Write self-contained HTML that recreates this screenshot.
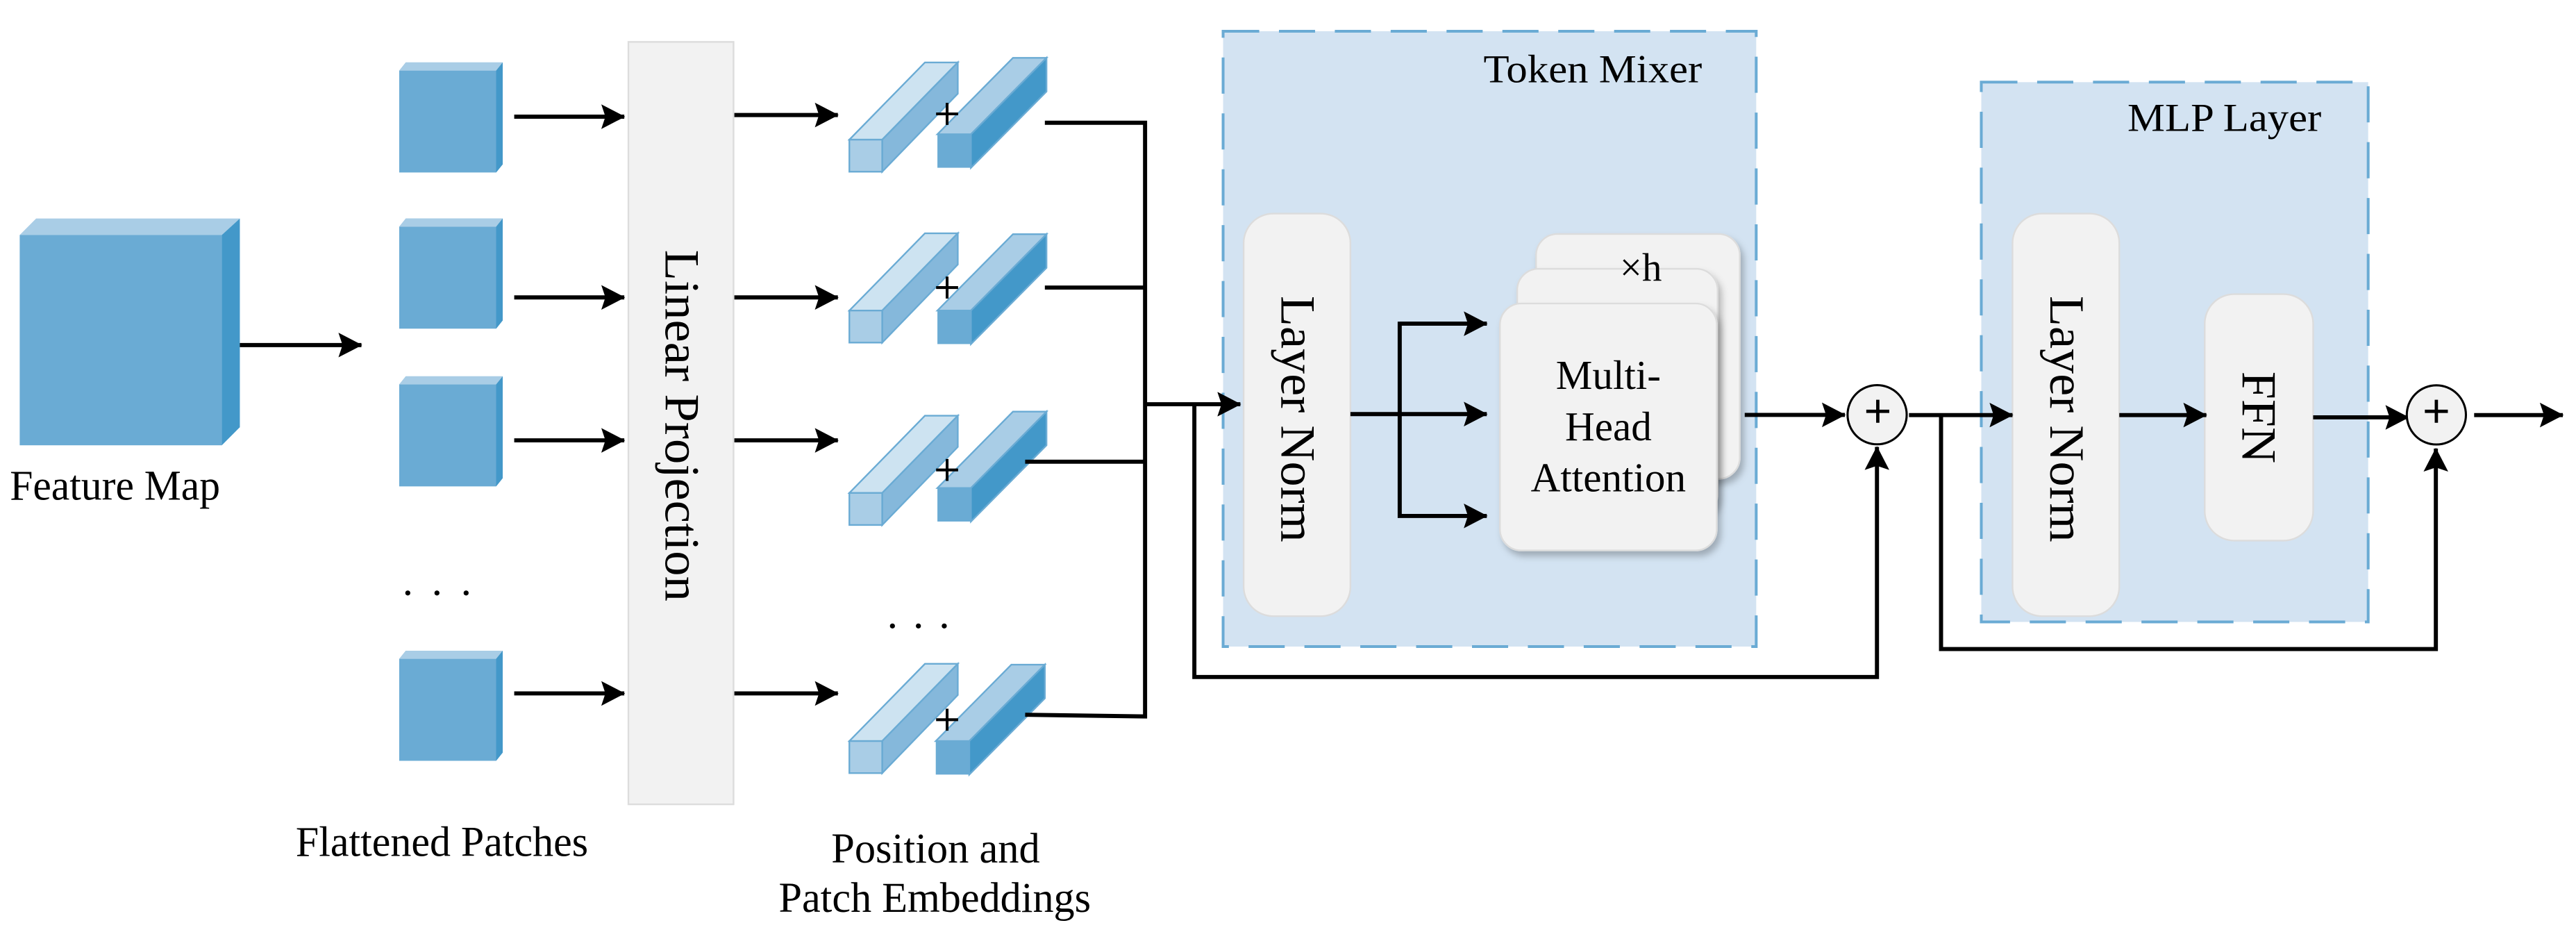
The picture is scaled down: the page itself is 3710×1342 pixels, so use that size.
<!DOCTYPE html>
<html><head><meta charset="utf-8"><style>
html,body{margin:0;padding:0;background:#fff;}
svg{display:block;}
svg text{font-family:"Liberation Serif","Times New Roman","DejaVu Serif",serif;fill:#000;}
</style></head><body>
<svg width="3710" height="1342" viewBox="0 0 1568 567.2" preserveAspectRatio="none" xmlns="http://www.w3.org/2000/svg" font-family="'Liberation Serif', 'Times New Roman', serif">
<defs>
<marker id="ah" markerUnits="userSpaceOnUse" markerWidth="16" markerHeight="16" refX="14" refY="8" orient="auto">
<path d="M0,0.5 L14.5,8 L0,15.5 L2.5,8 z" fill="#000"/>
</marker>
<filter id="sh" x="-10%" y="-10%" width="130%" height="130%"><feDropShadow dx="2" dy="3" stdDeviation="2" flood-color="#000" flood-opacity="0.25"/></filter>
<g id="bar1">
<polygon points="0,0 46,-47 66,-47 20,0" fill="#cde3f1" stroke="#6aabd4" stroke-width="1"/>
<polygon points="20,0 66,-47 66,-28 20,19.5" fill="#85b8db" stroke="#6aabd4" stroke-width="1"/>
<rect x="0" y="0" width="20" height="19.5" fill="#a9cde6" stroke="#6aabd4" stroke-width="1"/>
</g>
<g id="bar2">
<polygon points="0,0 46,-46.5 66.4,-46.5 20.4,0" fill="#a9cde6" stroke="#6aabd4" stroke-width="1"/>
<polygon points="20.4,0 66.4,-46.5 66.4,-26 20.4,20.4" fill="#4398c9" stroke="#6aabd4" stroke-width="1"/>
<rect x="0" y="0" width="20.4" height="20.4" fill="#6aabd4"/>
</g>
<g id="patch">
<polygon points="0,5 4,0 63,0 63,62 59,67 0,67" fill="#6aabd4"/>
<polygon points="0,5 4,0 63,0 59,5" fill="#a9cde6"/>
<polygon points="59,5 63,0 63,62 59,67" fill="#4398c9"/>
</g>
</defs>

<!-- Feature map -->
<polygon points="12,143 22,133 146,133 135,143" fill="#a9cde6"/>
<polygon points="135,143 146,133 146,260 135,271" fill="#4398c9"/>
<rect x="12" y="143" width="123" height="128" fill="#6aabd4"/>
<text x="6" y="304" font-size="26" textLength="128" lengthAdjust="spacingAndGlyphs">Feature Map</text>
<line x1="146" y1="210" x2="220" y2="210" stroke="#000" stroke-width="2.5" marker-end="url(#ah)"/>

<!-- patches -->
<use href="#patch" x="243" y="38"/>
<use href="#patch" x="243" y="133"/>
<use href="#patch" x="243" y="229"/>
<use href="#patch" x="243" y="396"/>
<text x="245" y="362" font-size="26" textLength="42" lengthAdjust="spacing">. . .</text>
<g stroke="#000" stroke-width="2.5">
<line x1="313" y1="71" x2="380" y2="71" marker-end="url(#ah)"/>
<line x1="313" y1="181" x2="380" y2="181" marker-end="url(#ah)"/>
<line x1="313" y1="268" x2="380" y2="268" marker-end="url(#ah)"/>
<line x1="313" y1="422" x2="380" y2="422" marker-end="url(#ah)"/>
</g>
<text x="180" y="521" font-size="26" textLength="178" lengthAdjust="spacingAndGlyphs">Flattened Patches</text>

<!-- Linear projection -->
<rect x="382.5" y="25.5" width="64" height="464" fill="#f2f2f2" stroke="#dcdcdc" stroke-width="1"/>
<text transform="translate(405,152) rotate(90)" font-size="30" textLength="214" lengthAdjust="spacingAndGlyphs">Linear Projection</text>

<g stroke="#000" stroke-width="2.5">
<line x1="447" y1="70" x2="510" y2="70" marker-end="url(#ah)"/>
<line x1="447" y1="181" x2="510" y2="181" marker-end="url(#ah)"/>
<line x1="447" y1="268" x2="510" y2="268" marker-end="url(#ah)"/>
<line x1="447" y1="422" x2="510" y2="422" marker-end="url(#ah)"/>
</g>

<!-- embeddings -->
<use href="#bar1" x="517" y="85"/><use href="#bar2" x="570.6" y="81.7"/>
<use href="#bar1" x="517" y="189"/><use href="#bar2" x="570.6" y="189"/>
<use href="#bar1" x="517" y="300"/><use href="#bar2" x="570.6" y="297"/>
<use href="#bar1" x="517" y="451"/><use href="#bar2" x="569.6" y="451"/>
<g stroke="#000" stroke-width="1.7">
<path d="M569.8,69.3 h13.4 M576.5,62.6 v13.4"/>
<path d="M569.8,175 h13.4 M576.5,168.3 v13.4"/>
<path d="M569.8,286 h13.4 M576.5,279.3 v13.4"/>
<path d="M569.8,438 h13.4 M576.5,431.3 v13.4"/>
</g>
<text x="540" y="382" font-size="26" textLength="38" lengthAdjust="spacing">. . .</text>
<text x="506" y="525" font-size="26" textLength="127" lengthAdjust="spacingAndGlyphs">Position and</text>
<text x="474" y="555" font-size="26" textLength="190" lengthAdjust="spacingAndGlyphs">Patch Embeddings</text>

<!-- bus -->
<g stroke="#000" stroke-width="2.5" fill="none">
<polyline points="636,74.7 697,74.7 697,436 624,435"/>
<line x1="636" y1="175" x2="697" y2="175"/>
<line x1="624" y1="281" x2="697" y2="281"/>
</g>

<!-- Token mixer box -->
<rect x="744.5" y="19" width="324.5" height="374.5" fill="#d3e3f2" stroke="#6aabd4" stroke-width="1.7" stroke-dasharray="22,12"/>
<text x="903" y="50" font-size="24" textLength="133" lengthAdjust="spacingAndGlyphs">Token Mixer</text>
<rect x="757" y="130" width="65" height="245" rx="18" fill="#f2f2f2" stroke="#dcdcdc" stroke-width="1"/>
<text transform="translate(780,180) rotate(90)" font-size="30" textLength="150" lengthAdjust="spacingAndGlyphs">Layer Norm</text>

<g stroke="#000" stroke-width="2.5" fill="none">
<line x1="697" y1="246" x2="755" y2="246" marker-end="url(#ah)"/>
<polyline points="727,246 727,412 1142.5,412 1142.5,272" marker-end="url(#ah)"/>
<line x1="822" y1="252" x2="905" y2="252" marker-end="url(#ah)"/>
<polyline points="905,197 852,197 852,314 905,314" marker-end="url(#ah)"/>
<line x1="852" y1="197" x2="905" y2="197" marker-end="url(#ah)"/>
</g>

<!-- MHA cards -->
<rect x="935" y="142.4" width="124" height="149" rx="13" fill="#f2f2f2" stroke="#dcdcdc" stroke-width="1" filter="url(#sh)"/>
<rect x="923.5" y="163.6" width="122" height="150" rx="13" fill="#f2f2f2" stroke="#dcdcdc" stroke-width="1" filter="url(#sh)"/>
<rect x="913" y="184.7" width="132" height="150.3" rx="13" fill="#f2f2f2" stroke="#dcdcdc" stroke-width="1" filter="url(#sh)"/>
<text x="986" y="170.8" font-size="24">×h</text>
<text x="979" y="236.7" font-size="25" text-anchor="middle">Multi-</text>
<text x="979" y="268" font-size="25" text-anchor="middle">Head</text>
<text x="979" y="299" font-size="25" text-anchor="middle">Attention</text>

<line x1="1062" y1="252.5" x2="1123" y2="252.5" stroke="#000" stroke-width="2.5" marker-end="url(#ah)"/>
<circle cx="1142.6" cy="252.4" r="18" fill="#f2f2f2" stroke="#000" stroke-width="1.3"/>
<path d="M1136,250.3 h14 M1143,243.3 v14" stroke="#000" stroke-width="2"/>

<!-- MLP box -->
<rect x="1206" y="50" width="235.5" height="328.5" fill="#d3e3f2" stroke="#6aabd4" stroke-width="1.7" stroke-dasharray="22,12"/>
<text x="1295" y="79.6" font-size="24" textLength="118" lengthAdjust="spacingAndGlyphs">MLP Layer</text>
<rect x="1225" y="130" width="65" height="245" rx="18" fill="#f2f2f2" stroke="#dcdcdc" stroke-width="1"/>
<text transform="translate(1248,180) rotate(90)" font-size="30" textLength="150" lengthAdjust="spacingAndGlyphs">Layer Norm</text>
<rect x="1342" y="179" width="66" height="150" rx="18" fill="#f2f2f2" stroke="#dcdcdc" stroke-width="1"/>
<text transform="translate(1365,226) rotate(90)" font-size="30" textLength="56" lengthAdjust="spacingAndGlyphs">FFN</text>

<g stroke="#000" stroke-width="2.5" fill="none">
<line x1="1162" y1="252.6" x2="1225" y2="252.6" marker-end="url(#ah)"/>
<polyline points="1181.5,252.6 1181.5,395 1482.7,395 1482.7,273" marker-end="url(#ah)"/>
<line x1="1290" y1="252.6" x2="1343" y2="252.6" marker-end="url(#ah)"/>
<line x1="1408" y1="254" x2="1466" y2="254" marker-end="url(#ah)"/>
<line x1="1506" y1="252.6" x2="1560" y2="252.6" marker-end="url(#ah)"/>
</g>
<circle cx="1483" cy="252.5" r="18" fill="#f2f2f2" stroke="#000" stroke-width="1.3"/>
<path d="M1476,250.3 h14 M1483,243.3 v14" stroke="#000" stroke-width="2"/>
</svg>
</body></html>
